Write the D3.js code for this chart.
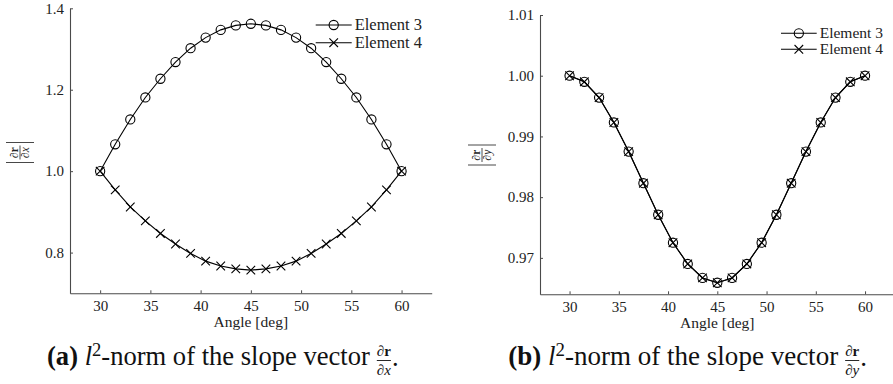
<!DOCTYPE html>
<html>
<head>
<meta charset="utf-8">
<script src="https://cdn.jsdelivr.net/npm/d3@7"></script>
<style>
  html, body { margin: 0; padding: 0; background: #fff; }
  svg { display: block; }
  svg text { font-family: "Liberation Serif", "DejaVu Serif", serif; }
</style>
</head>
<body>
<svg id="chart" width="893" height="384"></svg>
<script>
// ---------- data ----------
const angles = [30, 31.5, 33, 34.5, 36, 37.5, 39, 40.5, 42, 43.5, 45, 46.5, 48, 49.5, 51, 52.5, 54, 55.5, 57, 58.5, 60];

const dxElement3 = [1.000, 1.066, 1.127, 1.181, 1.227, 1.268, 1.302, 1.328, 1.347, 1.358, 1.362,
                    1.358, 1.347, 1.328, 1.302, 1.268, 1.227, 1.181, 1.127, 1.066, 1.000];
const dxElement4 = [1.000, 0.954, 0.912, 0.878, 0.847, 0.821, 0.798, 0.779, 0.767, 0.760, 0.757,
                    0.760, 0.767, 0.779, 0.798, 0.821, 0.847, 0.878, 0.912, 0.954, 1.000];

const dyElement3 = [1.0000, 0.9990, 0.9964, 0.9923, 0.9875, 0.9823, 0.9771, 0.9725, 0.9690, 0.9667, 0.9659,
                    0.9667, 0.9690, 0.9725, 0.9771, 0.9823, 0.9875, 0.9923, 0.9964, 0.9990, 1.0000];
const dyElement4 = [1.0000, 0.9990, 0.9964, 0.9923, 0.9875, 0.9823, 0.9771, 0.9725, 0.9690, 0.9667, 0.9659,
                    0.9667, 0.9690, 0.9725, 0.9771, 0.9823, 0.9875, 0.9923, 0.9964, 0.9990, 1.0000];

const xTicks = [30, 35, 40, 45, 50, 55, 60];
const yTicksLeft = [0.8, 1.0, 1.2, 1.4];
const yTicksRight = [0.97, 0.98, 0.99, 1.00, 1.01];
const seriesNames = ["Element 3", "Element 4"];
const xLabel = "Angle [deg]";

// ---------- drawing ----------
const svg = d3.select("#chart");
const AXIS = "#4a4a4a";
const SERIF = "Liberation Serif";

function panel(opt) {
  const x = d3.scaleLinear().domain(opt.xDomain).range(opt.xRange);
  const y = d3.scaleLinear().domain(opt.yDomain).range(opt.yRange);
  const g = svg.append("g").attr("font-family", SERIF);

  // axes
  const xAxis = d3.axisBottom(x).tickValues(xTicks).tickSizeInner(-3).tickSizeOuter(0).tickPadding(6)
    .tickFormat(d3.format("d"));
  const yAxis = d3.axisLeft(y).tickValues(opt.yTicks).tickSizeInner(-3).tickSizeOuter(0).tickPadding(6)
    .tickFormat(d3.format(opt.yFmt));

  const gx = g.append("g").attr("transform", `translate(0,${opt.yRange[0]})`).call(xAxis);
  const gy = g.append("g").attr("transform", `translate(${opt.xRange[0]},0)`).call(yAxis);
  [gx, gy].forEach(a => {
    a.attr("font-family", SERIF).attr("font-size", 15);
    a.select(".domain").attr("stroke", AXIS).attr("stroke-width", 1.1);
    a.selectAll(".tick line").attr("stroke", AXIS).attr("stroke-width", 1);
    a.selectAll(".tick text").attr("fill", "#222").attr("font-size", 15).attr("font-family", SERIF);
  });
  gx.selectAll(".tick text").attr("dy", null).attr("y", 17.5);

  // x label
  g.append("text").attr("x", x(45)).attr("y", opt.yRange[0] + 34)
    .attr("text-anchor", "middle").attr("font-size", 15.5).attr("fill", "#222").text(xLabel);

  // y label: |dr/dx| rotated
  const yl = g.append("g").attr("transform", `translate(${opt.yLab[0]},${opt.yLab[1]}) rotate(-90)`);
  yl.append("line").attr("x1", -10).attr("x2", -10).attr("y1", -14).attr("y2", 14).attr("stroke", "#333").attr("stroke-width", 0.9);
  yl.append("line").attr("x1", 10).attr("x2", 10).attr("y1", -14).attr("y2", 14).attr("stroke", "#333").attr("stroke-width", 0.9);
  yl.append("line").attr("x1", -7).attr("x2", 7).attr("y1", 0).attr("y2", 0).attr("stroke", "#222").attr("stroke-width", 0.8);
  const num = yl.append("text").attr("x", 0).attr("y", -2.2).attr("text-anchor", "middle").attr("font-size", 11.5).attr("fill", "#222");
  num.append("tspan").text("∂");
  num.append("tspan").attr("font-weight", "bold").text("r");
  const den = yl.append("text").attr("x", 0).attr("y", 9.2).attr("text-anchor", "middle").attr("font-size", 11.5).attr("fill", "#222");
  den.append("tspan").text("∂");
  den.append("tspan").attr("font-style", "italic").text(opt.varName);

  // lines & markers
  const line = d3.line().x((d, i) => x(angles[i])).y(d => y(d));
  const R = 4.6, C = 4.3;
  [opt.s3, opt.s4].forEach(s => {
    g.append("path").attr("d", line(s)).attr("fill", "none").attr("stroke", "#000").attr("stroke-width", 1.1);
  });
  g.append("g").selectAll("circle").data(opt.s3).join("circle")
    .attr("cx", (d, i) => x(angles[i])).attr("cy", d => y(d)).attr("r", R)
    .attr("fill", "none").attr("stroke", "#000").attr("stroke-width", 1.1);
  g.append("g").selectAll("path").data(opt.s4).join("path")
    .attr("d", (d, i) => {
      const cx = x(angles[i]), cy = y(d);
      return `M${cx - C},${cy - C}L${cx + C},${cy + C}M${cx - C},${cy + C}L${cx + C},${cy - C}`;
    })
    .attr("fill", "none").attr("stroke", "#000").attr("stroke-width", 1.1);

  // legend
  const lg = g.append("g");
  seriesNames.forEach((name, k) => {
    const ly = opt.leg.y[k];
    lg.append("line").attr("x1", opt.leg.x0).attr("x2", opt.leg.x1).attr("y1", ly).attr("y2", ly)
      .attr("stroke", "#000").attr("stroke-width", 1.1);
    const mx = (opt.leg.x0 + opt.leg.x1) / 2;
    if (k === 0) {
      lg.append("circle").attr("cx", mx).attr("cy", ly).attr("r", R).attr("fill", "none").attr("stroke", "#000").attr("stroke-width", 1.1);
    } else {
      lg.append("path").attr("d", `M${mx - C},${ly - C}L${mx + C},${ly + C}M${mx - C},${ly + C}L${mx + C},${ly - C}`)
        .attr("stroke", "#000").attr("stroke-width", 1.1);
    }
    lg.append("text").attr("x", opt.leg.x1 + 3).attr("y", ly + 5).attr("font-size", opt.leg.fs).attr("fill", "#222").text(name);
  });

  // caption
  const cap = g.append("text").attr("x", opt.cap.x).attr("y", 365).attr("fill", "#111").attr("font-size", 20);
  cap.append("tspan").attr("font-weight", "bold").text(opt.cap.tag);
  cap.append("tspan").text(" ");
  cap.append("tspan").attr("font-style", "italic").text("l");
  cap.append("tspan").attr("font-size", "70%").attr("dy", "-0.5em").text("2");
  cap.append("tspan").attr("dy", "0.35em").text("-norm of the slope vector");
  let w = cap.node().getComputedTextLength();
  const fs = 20 * opt.cap.w / w;
  cap.attr("font-size", fs);
  w = cap.node().getComputedTextLength();
  const fx = opt.cap.x + w + 7;
  const fn = g.append("text").attr("x", fx).attr("y", 356).attr("font-size", 15).attr("fill", "#111");
  fn.append("tspan").text("∂");
  fn.append("tspan").attr("font-weight", "bold").text("r");
  const fd = g.append("text").attr("x", fx).attr("y", 375).attr("font-size", 15).attr("fill", "#111");
  fd.append("tspan").text("∂");
  fd.append("tspan").attr("font-style", "italic").text(opt.varName);
  const fw = Math.max(fn.node().getComputedTextLength(), fd.node().getComputedTextLength());
  fn.attr("x", fx + (fw - fn.node().getComputedTextLength()) / 2);
  fd.attr("x", fx + (fw - fd.node().getComputedTextLength()) / 2);
  g.append("line").attr("x1", fx).attr("x2", fx + fw).attr("y1", 360.5).attr("y2", 360.5).attr("stroke", "#111").attr("stroke-width", 0.9);
  g.append("text").attr("x", fx + fw + 1).attr("y", 366).attr("font-size", fs).attr("fill", "#111").text(".");
}

panel({
  xDomain: [27, 63], xRange: [70, 431.7],
  yDomain: [0.7, 1.4], yRange: [293.3, 8.3],
  yTicks: yTicksLeft, yFmt: ".1f",
  s3: dxElement3, s4: dxElement4,
  yLab: [20, 152.5], varName: "x",
  leg: { x0: 315.7, x1: 351.7, y: [25, 42.7], fs: 16.5 },
  cap: { x: 47, tag: "(a)", w: 323 }
});

panel({
  xDomain: [27, 63], xRange: [540, 894.6],
  yDomain: [0.964, 1.01], yRange: [294.3, 15],
  yTicks: yTicksRight, yFmt: ".2f",
  s3: dyElement3, s4: dyElement4,
  yLab: [482, 155], varName: "y",
  leg: { x0: 781, x1: 816.7, y: [33.3, 49.3], fs: 15.5 },
  cap: { x: 508.3, tag: "(b)", w: 330 }
});
</script>
</body>
</html>
